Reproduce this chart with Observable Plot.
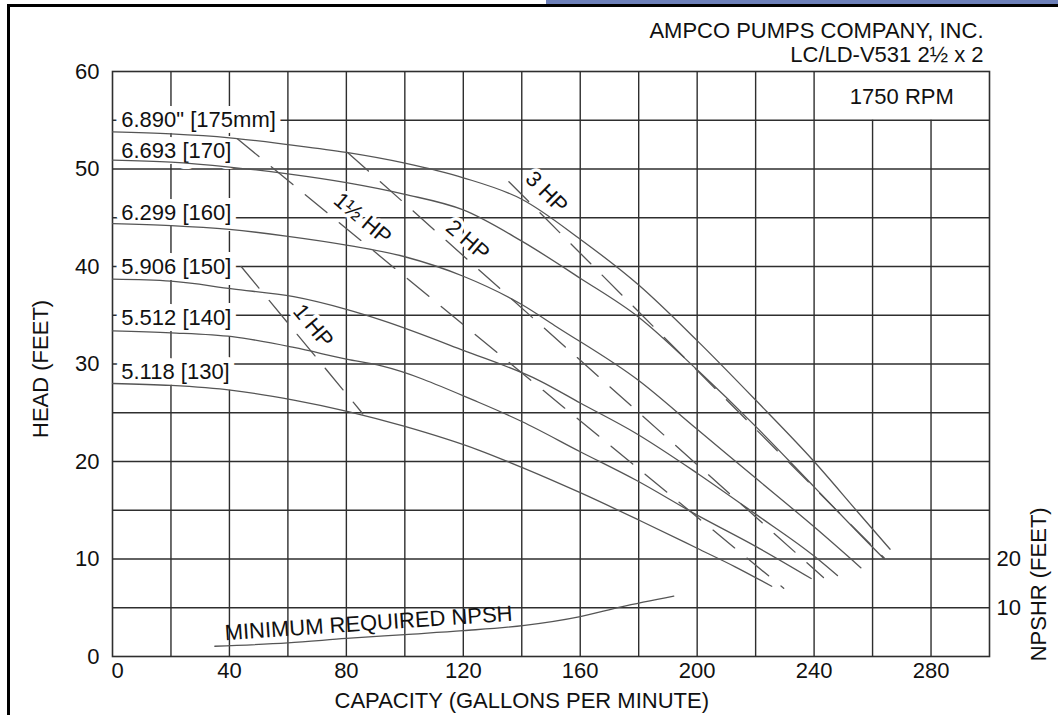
<!DOCTYPE html>
<html>
<head>
<meta charset="utf-8">
<script src="https://cdn.jsdelivr.net/npm/d3@7"></script>
<script src="https://cdn.jsdelivr.net/npm/@observablehq/plot@0.6"></script>
<style>
  html, body { margin: 0; padding: 0; background: #fff; }
  #wrap { position: relative; width: 1058px; height: 715px; overflow: hidden; background: #fff; }
  #chart { position: absolute; left: 0; top: 0; }
  .band { position: absolute; left: 546px; top: 0; width: 512px; height: 4px; background: #6d80b9; }
  .topline { position: absolute; left: 7px; top: 4px; width: 1051px; height: 3px; background: #000; }
  .leftline { position: absolute; left: 7px; top: 4px; width: 3px; height: 711px; background: #000; }
</style>
</head>
<body>
<div id="wrap">
  <div id="chart"></div>
  <div class="band"></div>
  <div class="topline"></div>
  <div class="leftline"></div>
</div>
<script>
// ---- tick labels and grid ----
const xTicks = [0, 40, 80, 120, 160, 200, 240, 280];
const yTicks = [0, 10, 20, 30, 40, 50, 60];
const npshrTicks = [10, 20];
const gridX = [20, 40, 60, 80, 100, 120, 140, 160, 180, 200, 220, 240, 260, 280];
const gridY = [5, 10, 15, 20, 25, 30, 35, 40, 45, 50, 55];
const rpmBox = { x: 240, y: 55 };

// ---- texts ----
const titleLines = ["AMPCO PUMPS COMPANY, INC.", "LC/LD-V531 2\u00BD x 2"];
const rpmText = "1750 RPM";
const xLabel = "CAPACITY (GALLONS PER MINUTE)";
const yLabel = "HEAD (FEET)";
const y2Label = "NPSHR (FEET)";
const npshLabel = "MINIMUM REQUIRED NPSH";

// ---- impeller diameter labels ----
const diameterLabels = ['6.890" [175mm]', "6.693 [170]", "6.299 [160]", "5.906 [150]", "5.512 [140]", "5.118 [130]"];
const diameterLabelY = [55, 51.8, 45.5, 40, 34.7, 29.2];

// ---- head curves [capacity gpm, head ft] ----
const curve175 = [[0,53.8],[20,53.6],[40,53.2],[60,52.5],[80,51.7],[100,50.6],[120,49.1],[140,46.9],[160,42.8],[180,38.1],[200,32.4],[220,26.3],[240,20.0],[255,14.8],[266,11.0]];
const curve170 = [[0,50.9],[20,50.7],[40,50.2],[60,49.5],[80,48.6],[100,47.4],[120,45.8],[140,42.6],[160,38.8],[180,34.8],[200,29.4],[220,23.6],[240,17.4],[260,11.2],[264,10.0]];
const curve160 = [[0,44.4],[20,44.2],[40,43.8],[60,43.1],[80,42.2],[100,41.0],[120,39.0],[140,36.1],[152,33.8],[180,28.3],[200,23.3],[220,18.3],[240,13.3],[256,9.1]];
const curve150 = [[0,38.7],[20,38.5],[41,37.7],[62,36.9],[80,35.6],[92,34.5],[120,31.4],[146,28.3],[160,26.0],[179,22.9],[200,18.8],[220,14.6],[240,10.3],[248,8.3]];
const curve140 = [[0,33.4],[20,33.2],[41,32.8],[62,31.7],[80,30.5],[92,29.8],[125,26.1],[140,24.1],[160,21.0],[179,18.1],[200,14.5],[220,11.3],[239,8.0]];
const curve130 = [[0,28.0],[20,27.8],[41,27.3],[62,26.3],[81,25.1],[100,23.6],[125,21.2],[140,19.4],[160,16.8],[180,14.0],[200,11.1],[213,9.2],[225.5,7.2]];

// ---- horsepower lines ----
const hpNames = ["1 HP", "1\u00BD HP", "2 HP", "3 HP"];
const hp1 = [[44,40.0],[85.6,24.9]];
const hp15 = [[42.7,53.1],[229.6,7.0]];
const hp2 = [[80.4,51.7],[243.2,8.1]];
const hp3 = [[135.6,48.7],[264,10.1]];
const hpLabelX = [68.6, 85.5, 121.5, 148.5];
const hpLabelY = [33.9, 44.9, 42.7, 47.6];
const hpLabelAngle = [50, 40, 41, 45];

// ---- NPSH required ----
const npsh = [[35,1.05],[60,1.4],[80,1.85],[100,2.25],[120,2.65],[141,3.2],[160,4.1],[174,5.1],[192,6.2]];

// ---- tables built from the arrays ----
const curveNames = ["175", "170", "160", "150", "140", "130"];
const curveSets = [curve175, curve170, curve160, curve150, curve140, curve130];
const curveRows = curveSets.flatMap((pts, i) => pts.map(([q, h]) => ({ d: curveNames[i], q, h })));
const hpSets = [hp1, hp15, hp2, hp3];
const hpRows = hpSets.flatMap((pts, i) => pts.map(([q, h]) => ({ d: hpNames[i], q, h })));
const hpLabelRows = hpNames.map((t, i) => ({ t, x: hpLabelX[i], y: hpLabelY[i], r: hpLabelAngle[i] }));
const diaRows = diameterLabels.map((t, i) => ({ t, y: diameterLabelY[i] }));

const ink = "#111";
const gridColor = "#2e2e2e";
const curveColor = "#555";
const fs = 22;

const chart = Plot.plot({
  width: 1058,
  height: 715,
  marginLeft: 112,
  marginRight: 69,
  marginTop: 71,
  marginBottom: 59,
  x: { domain: [0, 300], axis: null },
  y: { domain: [0, 60], axis: null },
  style: { fontFamily: "'Liberation Sans', Arial, sans-serif", fontSize: fs + "px", color: ink, background: "transparent" },
  marks: [
    Plot.ruleY(gridY, { x1: 0, x2: 300, y: d => d, stroke: gridColor, strokeWidth: 1.4 }),
    Plot.ruleX(gridX, { x: d => d, y1: 0, y2: d => (d > rpmBox.x ? rpmBox.y : 60), stroke: gridColor, strokeWidth: 1.4 }),
    Plot.frame({ stroke: gridColor, strokeWidth: 1.6 }),
    Plot.text(diaRows, { x: 3, y: "y", text: "t", textAnchor: "start", fill: ink, stroke: "white", strokeWidth: 12, paintOrder: "stroke", fontSize: fs }),
    Plot.line(curveRows, { x: "q", y: "h", z: "d", curve: "monotone-x", stroke: curveColor, strokeWidth: 1.3 }),
    Plot.line(hpRows, { x: "q", y: "h", z: "d", stroke: curveColor, strokeWidth: 1.3, strokeDasharray: "28,16" }),
    Plot.line(npsh, { x: d => d[0], y: d => d[1], curve: "monotone-x", stroke: curveColor, strokeWidth: 1.3 }),
    Plot.text(hpLabelRows, { x: "x", y: "y", text: "t", rotate: "r", fill: ink, stroke: "white", strokeWidth: 7, paintOrder: "stroke", fontSize: fs }),
    Plot.text([npshLabel], { x: 87.6, y: 3.4, text: d => d, rotate: -3.9, fill: ink, fontSize: fs }),
    Plot.text([rpmText], { x: 270, y: 57.4, text: d => d, fill: ink, fontSize: fs }),
    // axes
    Plot.text(xTicks, { filter: d => d !== 0, x: d => d, text: d => String(d), frameAnchor: "bottom", dy: 14, lineAnchor: "middle", fill: ink, fontSize: fs }),
    Plot.text(xTicks, { filter: d => d === 0, x: d => d, text: d => String(d), frameAnchor: "bottom", dx: 5, dy: 14, lineAnchor: "middle", fill: ink, fontSize: fs }),
    Plot.text(yTicks, { y: d => d, text: d => String(d), frameAnchor: "left", dx: -13, textAnchor: "end", fill: ink, fontSize: fs }),
    Plot.text(npshrTicks, { y: d => d / 2, text: d => String(d), frameAnchor: "right", dx: 7, textAnchor: "start", fill: ink, fontSize: fs }),
    Plot.text([xLabel], { x: 140, text: d => d, frameAnchor: "bottom", dy: 44, lineAnchor: "middle", fill: ink, fontSize: fs }),
    Plot.text([yLabel], { y: 29.5, text: d => d, frameAnchor: "left", dx: -72, rotate: -90, textAnchor: "middle", lineAnchor: "middle", fill: ink, fontSize: fs }),
    Plot.text([y2Label], { y: 7.4, text: d => d, frameAnchor: "right", dx: 49, rotate: -90, textAnchor: "middle", lineAnchor: "middle", fill: ink, fontSize: fs }),
    Plot.text([titleLines[0]], { text: d => d, frameAnchor: "top-right", dx: -6, dy: -41, textAnchor: "end", lineAnchor: "middle", fill: ink, fontSize: fs }),
    Plot.text([titleLines[1]], { text: d => d, frameAnchor: "top-right", dx: -6, dy: -17, textAnchor: "end", lineAnchor: "middle", fill: ink, fontSize: fs })
  ]
});
document.getElementById("chart").appendChild(chart);
</script>
</body>
</html>
